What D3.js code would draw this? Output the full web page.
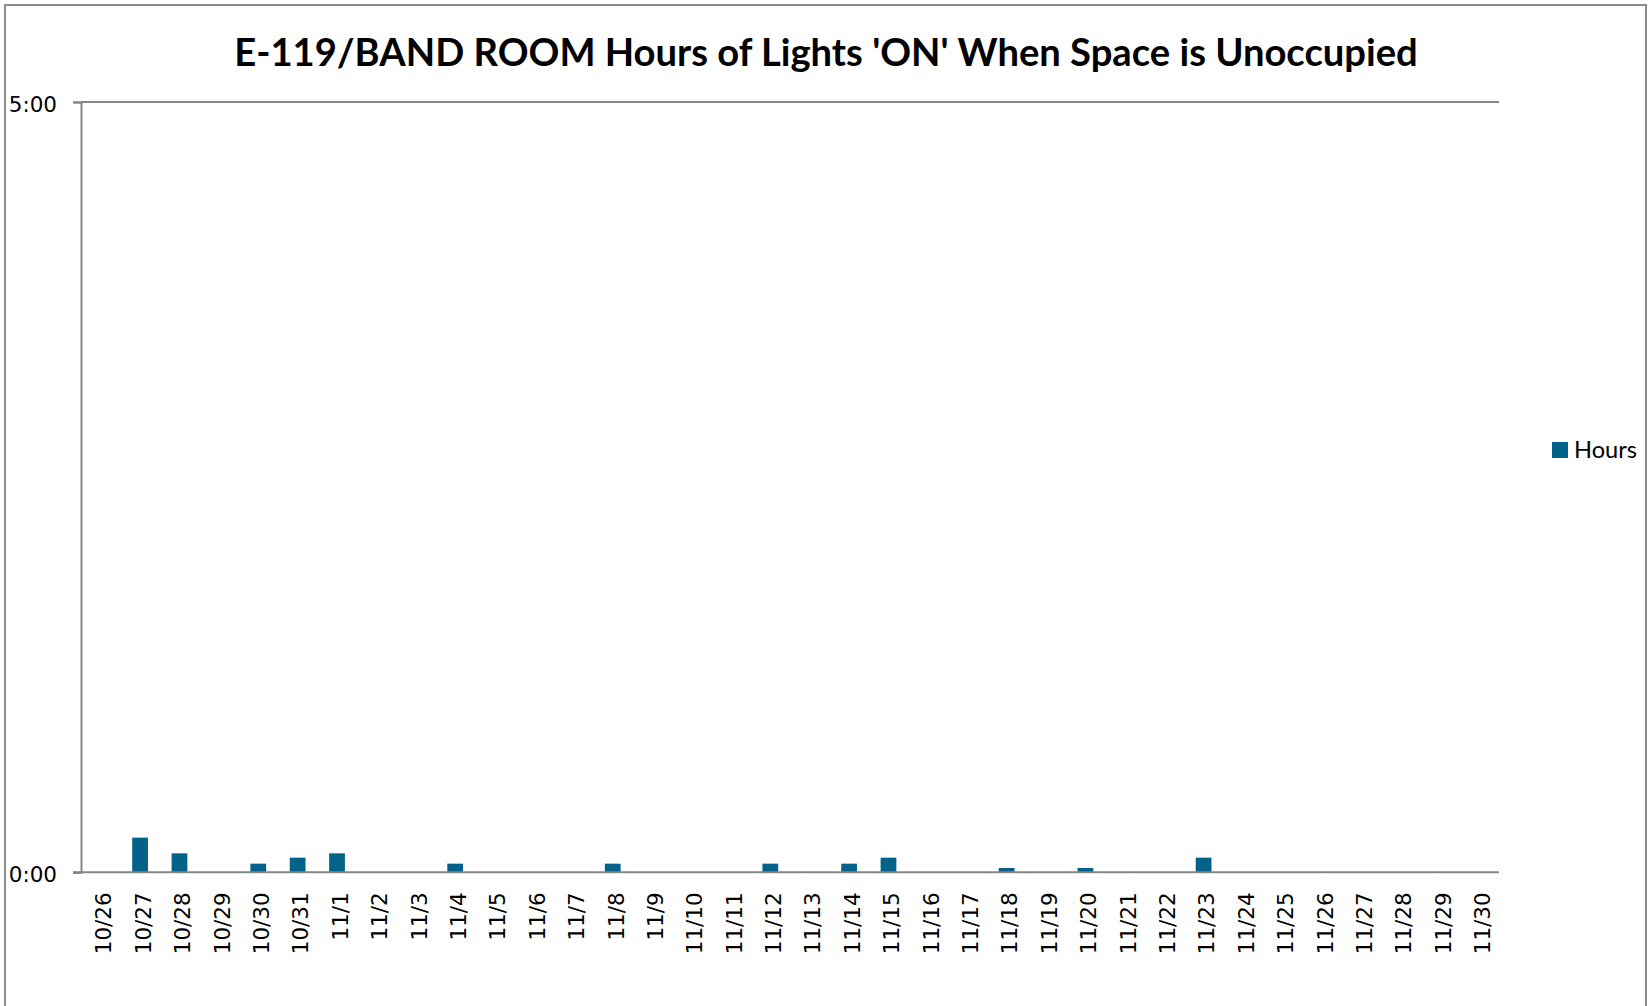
<!DOCTYPE html>
<html>
<head>
<meta charset="utf-8">
<script src="https://cdn.jsdelivr.net/npm/d3@7"></script>
<style>
  html, body { margin: 0; padding: 0; background: #ffffff; }
  svg { display: block; }
</style>
</head>
<body>
<svg id="chart" width="1652" height="1006"></svg>
<script>
// ---- data ----
const titleText = "E-119/BAND ROOM Hours of Lights 'ON' When Space is Unoccupied";
const seriesName = "Hours";
const categories = [
  "10/26","10/27","10/28","10/29","10/30","10/31",
  "11/1","11/2","11/3","11/4","11/5","11/6","11/7","11/8","11/9","11/10",
  "11/11","11/12","11/13","11/14","11/15","11/16","11/17","11/18","11/19","11/20",
  "11/21","11/22","11/23","11/24","11/25","11/26","11/27","11/28","11/29","11/30"
];
// hours (decimal) of lights on while unoccupied
const hours = [
  0, 0.225, 0.123, 0, 0.056, 0.095,
  0.123, 0, 0, 0.056, 0, 0, 0, 0.056, 0, 0,
  0, 0.056, 0, 0.056, 0.095, 0, 0, 0.028, 0, 0.028,
  0, 0, 0.095, 0, 0, 0, 0, 0, 0, 0
];
const yTicks = [0, 5];

// ---- layout ----
const svg = d3.select("#chart");
const plot = { left: 81, right: 1499, top: 102, bottom: 872.3 };
const axisColor = "#868686";
const barColor = "#02628a";

// outer chart border
svg.append("rect")
  .attr("x", 5).attr("y", 5)
  .attr("width", 1641).attr("height", 1100)
  .attr("fill", "none").attr("stroke", "#8c8c8c").attr("stroke-width", 2);

const x = d3.scaleBand()
  .domain(categories)
  .range([plot.left, plot.right])
  .paddingInner(0.6)
  .paddingOuter(0.3);

const y = d3.scaleLinear()
  .domain([0, 5])
  .range([plot.bottom, plot.top]);

const fmt = v => {
  const h = Math.floor(v);
  const m = Math.round((v - h) * 60);
  return h + ":" + String(m).padStart(2, "0");
};

// top gridline (major gridline at 5:00)
svg.append("g")
  .selectAll("line")
  .data(yTicks.filter(d => d > 0))
  .join("line")
  .attr("x1", plot.left).attr("x2", plot.right)
  .attr("y1", d => y(d)).attr("y2", d => y(d))
  .attr("stroke", axisColor).attr("stroke-width", 2);

// bars
svg.append("g")
  .selectAll("rect")
  .data(categories.map((c, i) => ({ c, v: hours[i] })).filter(d => d.v > 0))
  .join("rect")
  .attr("x", d => x(d.c))
  .attr("width", x.bandwidth())
  .attr("y", d => y(d.v))
  .attr("height", d => y(0) - y(d.v))
  .attr("fill", barColor);

// y axis
const yAxis = d3.axisLeft(y)
  .tickValues(yTicks)
  .tickFormat(fmt)
  .tickSize(8)
  .tickPadding(16);
const gy = svg.append("g")
  .attr("transform", `translate(${plot.left},0)`)
  .call(yAxis);
gy.select(".domain").attr("stroke", axisColor).attr("stroke-width", 2);
gy.selectAll(".tick line").attr("stroke", axisColor).attr("stroke-width", 2);
gy.selectAll(".tick text")
  .attr("font-family", "'DejaVu Sans', sans-serif")
  .attr("font-size", 21.5)
  .attr("fill", "#000")
  .attr("dy", "0.42em");

// x axis
const xAxis = d3.axisBottom(x).tickSize(0).tickPadding(0);
const gx = svg.append("g")
  .attr("transform", `translate(0,${plot.bottom})`)
  .call(xAxis);
gx.select(".domain")
  .attr("d", `M${plot.left - 8},0H${plot.right}`)
  .attr("stroke", axisColor).attr("stroke-width", 2);
gx.selectAll(".tick text")
  .attr("font-family", "'DejaVu Sans', sans-serif")
  .attr("font-size", 21.5)
  .attr("fill", "#000")
  .attr("text-anchor", "end")
  .attr("transform", "rotate(-90)")
  .attr("x", -20)
  .attr("y", 0)
  .attr("dy", "0.5em");

// title
const title = svg.append("text")
  .attr("x", 826)
  .attr("y", 65.5)
  .attr("text-anchor", "middle")
  .attr("font-family", "Lato, 'Open Sans', sans-serif")
  .attr("font-weight", 700)
  .attr("font-size", 36)
  .attr("fill", "#000")
  .text(titleText);
{
  const w = title.node().getComputedTextLength();
  title.attr("font-size", 36 * 1184 / w);
}

// legend
const lg = svg.append("g");
lg.append("rect")
  .attr("x", 1552).attr("y", 442)
  .attr("width", 16).attr("height", 16)
  .attr("fill", barColor);
const lt = lg.append("text")
  .attr("x", 1574).attr("y", 457.7)
  .attr("font-family", "Lato, 'Open Sans', sans-serif")
  .attr("font-size", 22)
  .attr("fill", "#000")
  .text(seriesName);
{
  const w = lt.node().getComputedTextLength();
  lt.attr("font-size", 22 * 63 / w);
}
</script>
</body>
</html>
